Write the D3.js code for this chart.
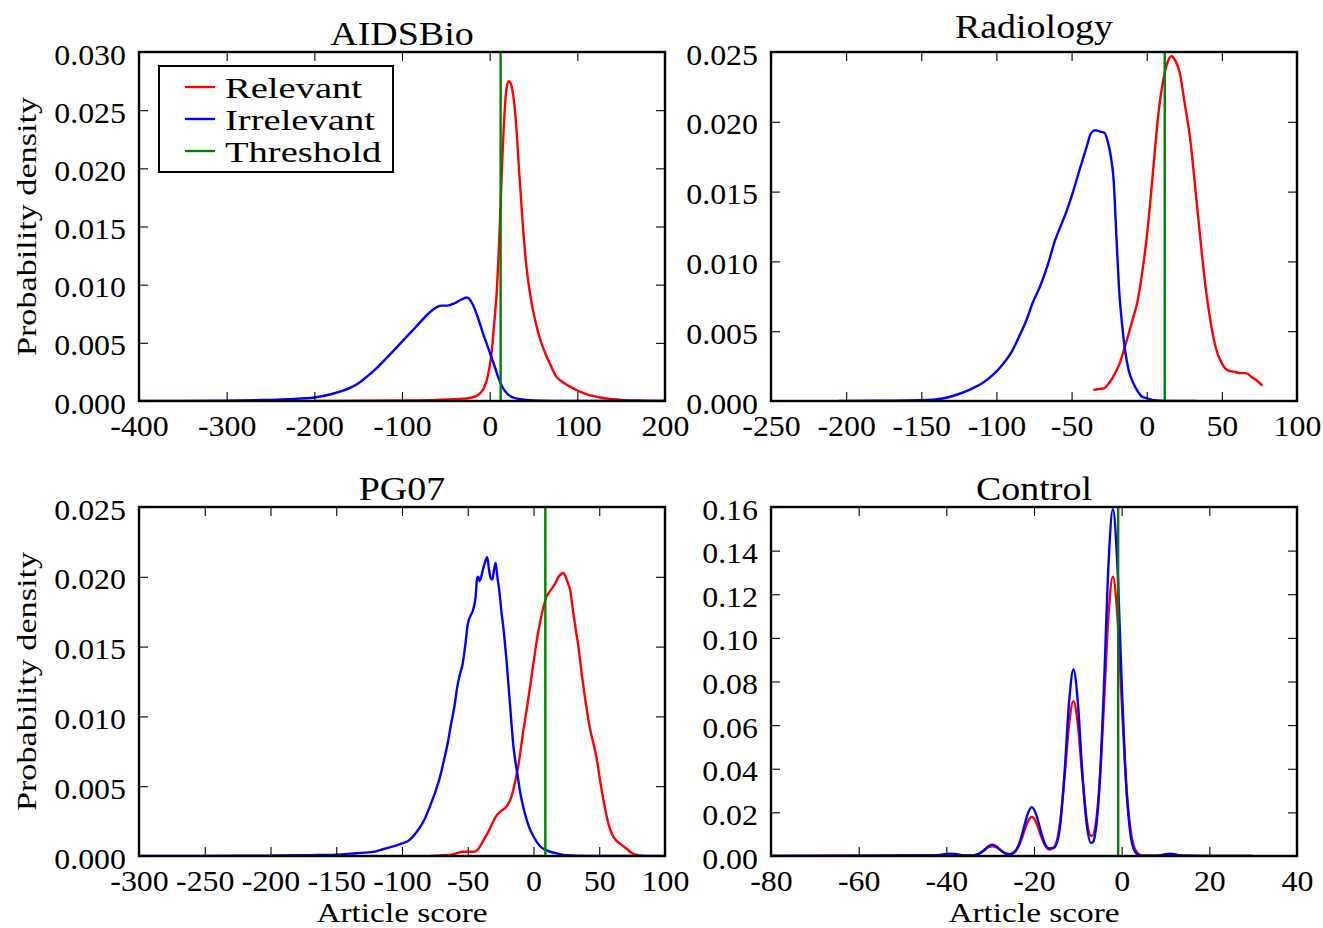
<!DOCTYPE html>
<html><head><meta charset="utf-8">
<script src="https://cdn.jsdelivr.net/npm/d3@7"></script>
<style>
body{margin:0;background:#fff}
svg{display:block}
text{font-family:"Liberation Serif","Times New Roman",serif;fill:#000}
</style>
</head><body>
<svg id="chart" width="1323" height="928"></svg>
<script>
// ---------------- DATA ----------------
const panelTitles = ["AIDSBio", "Radiology", "PG07", "Control"];
const seriesNames = ["Relevant", "Irrelevant", "Threshold"];
const yAxisTitle = "Probability density";
const xAxisTitle = "Article score";

const aidsXTicks = [-400,-300,-200,-100,0,100,200];
const aidsXLabels = ["-400","-300","-200","-100","0","100","200"];
const aidsYTicks = [0,0.005,0.010,0.015,0.020,0.025,0.030];
const aidsYLabels = ["0.000","0.005","0.010","0.015","0.020","0.025","0.030"];

const radXTicks = [-250,-200,-150,-100,-50,0,50,100];
const radXLabels = ["-250","-200","-150","-100","-50","0","50","100"];
const radYTicks = [0,0.005,0.010,0.015,0.020,0.025];
const radYLabels = ["0.000","0.005","0.010","0.015","0.020","0.025"];

const pgXTicks = [-300,-250,-200,-150,-100,-50,0,50,100];
const pgXLabels = ["-300","-250","-200","-150","-100","-50","0","50","100"];
const pgYTicks = [0,0.005,0.010,0.015,0.020,0.025];
const pgYLabels = ["0.000","0.005","0.010","0.015","0.020","0.025"];

const ctlXTicks = [-80,-60,-40,-20,0,20,40];
const ctlXLabels = ["-80","-60","-40","-20","0","20","40"];
const ctlYTicks = [0,0.02,0.04,0.06,0.08,0.10,0.12,0.14,0.16];
const ctlYLabels = ["0.00","0.02","0.04","0.06","0.08","0.10","0.12","0.14","0.16"];

const thresholds = [12.5, 12, 9, -0.8];

const aidsRelevant = [[-200,0],[-150,0.00002],[-100,0.00005],[-60,0.0001],[-40,0.00015],[-30,0.0002],[-20,0.0003],[-12,0.0006],[-6,0.0012],[-2,0.0022],[2,0.0040],[5,0.0065],[8,0.0093],[11,0.0140],[14,0.0200],[17,0.0248],[20,0.0272],[22,0.0275],[24,0.0273],[27,0.0262],[30,0.0240],[33,0.0205],[37,0.0160],[42,0.0115],[47,0.0088],[52,0.0069],[58,0.0052],[64,0.0040],[70,0.0030],[76,0.0021],[82,0.0017],[90,0.0013],[100,0.0009],[110,0.0006],[120,0.0004],[126,0.0003],[135,0.0002],[150,0.0001],[175,0.00003],[200,0]];
const aidsIrrelevant = [[-400,0],[-350,0.00001],[-300,0.00003],[-260,0.00008],[-230,0.00016],[-200,0.0003],[-180,0.0006],[-160,0.0011],[-150,0.0015],[-140,0.0021],[-128,0.0029],[-115,0.0039],[-100,0.0051],[-85,0.0063],[-70,0.0075],[-62,0.0080],[-55,0.0082],[-48,0.0082],[-40,0.0084],[-33,0.0087],[-26,0.0089],[-20,0.0084],[-15,0.0075],[-8,0.0059],[0,0.0042],[6,0.0029],[12,0.0016],[19,0.0007],[27,0.0003],[35,0.00015],[50,0.00004],[75,0.00001],[100,0],[200,0]];

const radRelevant = [[-35.5,0.0008],[-32,0.00085],[-28.5,0.0009],[-25,0.0013],[-22.5,0.0017],[-18,0.0027],[-14.5,0.0039],[-10,0.0056],[-6,0.0072],[-3,0.0092],[0,0.0117],[3,0.0150],[5.5,0.0180],[8,0.0208],[11,0.0230],[14,0.0243],[16.5,0.0247],[19,0.0244],[22,0.0235],[25,0.0215],[29,0.0187],[33,0.0145],[36,0.0113],[39,0.0083],[42,0.0060],[46,0.0038],[50,0.0027],[54,0.0022],[58,0.0021],[62,0.0020],[66,0.0020],[70,0.0017],[74,0.0014],[77,0.0011]];
const radIrrelevant = [[-205,0],[-180,0.00002],[-150,0.00005],[-135,0.0002],[-127,0.00043],[-118,0.0008],[-109,0.0013],[-102,0.0019],[-96,0.0026],[-90,0.0035],[-85,0.0046],[-80,0.0058],[-76,0.0070],[-71,0.0082],[-66,0.0097],[-61,0.0115],[-57,0.0126],[-54,0.0134],[-49,0.0150],[-44,0.0168],[-40,0.0182],[-37,0.0192],[-34,0.0194],[-31,0.0193],[-28,0.0192],[-26,0.0186],[-24,0.0176],[-22,0.0158],[-20,0.0114],[-18.5,0.0082],[-16.5,0.0056],[-14.5,0.0037],[-12,0.0022],[-9,0.0013],[-6,0.0007],[-3,0.0003],[0,0.0002],[5,0.00005],[10,0.00002],[20,0],[33,0]];

const pgRelevant = [[-78,0],[-70,0.00005],[-62,0.0001],[-58,0.0002],[-54,0.0003],[-50,0.0003],[-46,0.0003],[-43,0.0004],[-40,0.0008],[-37,0.0013],[-34,0.0018],[-31,0.0024],[-28,0.0029],[-25,0.0032],[-22,0.0034],[-20,0.0036],[-17,0.0042],[-14,0.0053],[-11,0.0068],[-8,0.0088],[-5,0.0106],[-2,0.0125],[1,0.0145],[3.5,0.0160],[6,0.0172],[8,0.0180],[10,0.0186],[12,0.0189],[15,0.0193],[17,0.0196],[19,0.0200],[21,0.0202],[22.5,0.0203],[24,0.0201],[26,0.0196],[28,0.0190],[30,0.0176],[32,0.0163],[34,0.0151],[37,0.0128],[40,0.0108],[43,0.0091],[46,0.0079],[48,0.0070],[51,0.0052],[54,0.0036],[57,0.0023],[60,0.0015],[63,0.0011],[67,0.0008],[71,0.0005],[75,0.0002],[80,0.00005],[85,0]];
const pgIrrelevant = [[-300,0],[-250,0.00001],[-200,0.00003],[-170,0.00006],[-150,0.0001],[-135,0.0002],[-122,0.0003],[-114,0.0005],[-106,0.0007],[-100,0.0009],[-95,0.0011],[-89,0.0017],[-83,0.0026],[-79,0.0035],[-75,0.0045],[-71,0.0057],[-68,0.0069],[-65,0.0082],[-63,0.0093],[-60,0.0108],[-58,0.0121],[-56,0.0130],[-54,0.0137],[-52,0.0150],[-50,0.0166],[-48,0.0172],[-46,0.0176],[-44,0.0186],[-43,0.0198],[-42,0.0200],[-41,0.0197],[-40,0.0199],[-38.5,0.0205],[-37,0.0210],[-35.2,0.0214],[-33.8,0.0205],[-32.5,0.0199],[-31.3,0.0198],[-30,0.0205],[-28.8,0.0210],[-27.5,0.0200],[-26,0.0190],[-24.5,0.0176],[-22.5,0.0160],[-20.5,0.0140],[-18,0.0110],[-15.2,0.0078],[-12.5,0.0060],[-10,0.0045],[-7,0.0032],[-3.5,0.0021],[0,0.0014],[5,0.0007],[10,0.0004],[17,0.0002],[25,0.00005],[40,0],[60,0],[100,0]];

const ctlRelevant = [[-80,0],[-60,0.0001],[-50,0.0002],[-45,0.0002],[-42,0.0003],[-40,0.0007],[-39,0.0008],[-38,0.0007],[-36,0.0003],[-34,0.0003],[-33,0.0007],[-32,0.0017],[-31.5,0.0024],[-30.5,0.0039],[-29.5,0.0045],[-28.5,0.0039],[-27.5,0.0024],[-26.5,0.0011],[-25.5,0.0008],[-24.5,0.0016],[-23.5,0.0045],[-22.5,0.0097],[-21.5,0.0154],[-20.5,0.0180],[-19.5,0.0154],[-18.5,0.0097],[-17.5,0.0050],[-16.5,0.0030],[-15.5,0.0038],[-14.5,0.0096],[-14,0.0163],[-13,0.0369],[-12,0.0603],[-11,0.0710],[-10,0.0603],[-9,0.0370],[-8,0.0170],[-7,0.0092],[-6.5,0.0095],[-6,0.0136],[-5,0.0345],[-4,0.0713],[-3,0.1106],[-2,0.1280],[-1,0.1106],[0,0.0713],[1,0.0343],[2,0.0124],[3,0.0033],[4,0.0007],[5,0.0001],[7,0.0001],[9,0.0003],[10,0.0006],[11,0.0007],[12,0.0006],[13,0.0003],[15,0.0001],[20,0],[30,0]];
const ctlIrrelevant = [[-80,0],[-60,0.0001],[-50,0.0002],[-45,0.0002],[-42,0.0004],[-40,0.0009],[-39,0.0011],[-38,0.0009],[-36,0.0003],[-34,0.0002],[-33,0.0006],[-32,0.0017],[-31.5,0.0025],[-30.5,0.0043],[-29.5,0.0052],[-28.5,0.0043],[-27.5,0.0025],[-26.5,0.0012],[-25.5,0.0008],[-24.5,0.0018],[-23.5,0.0050],[-22.5,0.0115],[-21.5,0.0190],[-20.5,0.0224],[-19.5,0.0190],[-18.5,0.0118],[-17.5,0.0055],[-16.5,0.0035],[-15.5,0.0037],[-14.5,0.0080],[-14,0.0146],[-13,0.0390],[-12,0.0705],[-11,0.0855],[-10,0.0705],[-9,0.0390],[-8,0.0150],[-7,0.0060],[-6.5,0.0064],[-6,0.0107],[-5,0.0340],[-4,0.0800],[-3,0.1340],[-2,0.1590],[-1,0.1340],[0,0.0800],[1,0.0335],[2,0.0100],[3,0.0021],[4,0.0003],[5,0.0001],[7,0.0001],[9,0.0004],[10,0.0008],[11,0.0010],[12,0.0008],[13,0.0004],[15,0.0001],[20,0],[30,0]];

// ---------------- LAYOUT ----------------
const colors = {Relevant:"#ff0000", Irrelevant:"#0000ff", Threshold:"#008000"};
const fontTick = 29, fontTitle = 33, fontLabel = 28, fontLegend = 29;
const lineW = 2.4;
const cols = [[139,665],[771,1297]];
const rows = [[52,401],[507,856]];

// widen Times-metric glyphs toward the look of Computer Modern
function widen(sel, factor) {
  sel.each(function() {
    const len = this.getComputedTextLength();
    d3.select(this).attr("textLength", len * factor).attr("lengthAdjust", "spacingAndGlyphs");
  });
}

const panels = [
  {title:panelTitles[0], xd:[-400,200], yd:[0,0.030], xt:aidsXTicks, xl:aidsXLabels, yt:aidsYTicks, yl:aidsYLabels, rel:aidsRelevant, irr:aidsIrrelevant, thr:thresholds[0], c:0, r:0, legend:true},
  {title:panelTitles[1], xd:[-250,100], yd:[0,0.025], xt:radXTicks, xl:radXLabels, yt:radYTicks, yl:radYLabels, rel:radRelevant, irr:radIrrelevant, thr:thresholds[1], c:1, r:0},
  {title:panelTitles[2], xd:[-300,100], yd:[0,0.025], xt:pgXTicks, xl:pgXLabels, yt:pgYTicks, yl:pgYLabels, rel:pgRelevant, irr:pgIrrelevant, thr:thresholds[2], c:0, r:1},
  {title:panelTitles[3], xd:[-80,40], yd:[0,0.16], xt:ctlXTicks, xl:ctlXLabels, yt:ctlYTicks, yl:ctlYLabels, rel:ctlRelevant, irr:ctlIrrelevant, thr:thresholds[3], c:1, r:1}
];

const svg = d3.select("#chart");
const defs = svg.append("defs");

panels.forEach((p, i) => {
  const [L, R] = cols[p.c];
  const [T, B] = rows[p.r];
  const x = d3.scaleLinear().domain(p.xd).range([L, R]);
  const y = d3.scaleLinear().domain(p.yd).range([B, T]);
  const g = svg.append("g");

  defs.append("clipPath").attr("id", "clip" + i)
    .append("rect").attr("x", L).attr("y", T).attr("width", R - L).attr("height", B - T);

  const plot = g.append("g").attr("clip-path", `url(#clip${i})`);
  const line = d3.line().x(d => x(d[0])).y(d => y(d[1])).curve(d3.curveMonotoneX);

  plot.append("path").datum(p.rel).attr("d", line)
    .attr("fill", "none").attr("stroke", colors.Relevant).attr("stroke-width", lineW).attr("stroke-linejoin","round");
  plot.append("path").datum(p.irr).attr("d", line)
    .attr("fill", "none").attr("stroke", colors.Irrelevant).attr("stroke-width", lineW).attr("stroke-linejoin","round");
  plot.append("line")
    .attr("x1", x(p.thr)).attr("x2", x(p.thr)).attr("y1", y(p.yd[0])).attr("y2", y(p.yd[1]))
    .attr("stroke", colors.Threshold).attr("stroke-width", lineW);

  // axes: inward ticks on all four sides
  const tk = 9;
  const xb = g.append("g").attr("transform", `translate(0,${B})`)
    .call(d3.axisBottom(x).tickValues(p.xt).tickSize(-tk).tickPadding(0).tickFormat((d, k) => p.xl[k]));
  xb.selectAll("text").attr("font-size", fontTick).attr("font-family", null).attr("dy", null).attr("y", 34.5);
  const xt = g.append("g").attr("transform", `translate(0,${T})`)
    .call(d3.axisTop(x).tickValues(p.xt).tickSize(-tk).tickFormat(""));
  const yl = g.append("g").attr("transform", `translate(${L},0)`)
    .call(d3.axisLeft(y).tickValues(p.yt).tickSize(-tk).tickPadding(13).tickFormat((d, k) => p.yl[k]));
  yl.selectAll("text").attr("font-size", fontTick).attr("font-family", null).attr("dy", null).attr("y", 12);
  const yr = g.append("g").attr("transform", `translate(${R},0)`)
    .call(d3.axisRight(y).tickValues(p.yt).tickSize(-tk).tickFormat(""));
  [xb, xt, yl, yr].forEach(a => {
    a.attr("font-family", null).attr("font-size", null);
    a.select(".domain").remove();
    a.selectAll(".tick line").attr("stroke", "#000").attr("stroke-width", 1.1);
  });
  widen(xb.selectAll("text"), 1.1);
  widen(yl.selectAll("text"), 1.1);

  // spines
  g.append("rect").attr("x", L).attr("y", T).attr("width", R - L).attr("height", B - T)
    .attr("fill", "none").attr("stroke", "#000").attr("stroke-width", 2.4);

  // title
  const hasDesc = /[gjpqy]/.test(p.title);
  const tt = g.append("text").attr("x", (L + R) / 2).attr("y", T - (hasDesc ? 14 : 7))
    .attr("text-anchor", "middle").attr("font-size", fontTitle).text(p.title);
  widen(tt, 1.15);

  // axis titles
  if (p.c === 0) {
    const t = g.append("text").attr("transform", `translate(36,${(T + B) / 2}) rotate(-90)`)
      .attr("text-anchor", "middle").attr("font-size", fontLabel).text(yAxisTitle);
    widen(t, 1.22);
  }
  if (p.r === 1) {
    const t = g.append("text").attr("x", (L + R) / 2).attr("y", 922)
      .attr("text-anchor", "middle").attr("font-size", fontLabel).text(xAxisTitle);
    widen(t, 1.19);
  }

  // legend
  if (p.legend) {
    const lx = L + 20, ly = T + 14, lw = 234, lh = 106;
    const lg = g.append("g");
    lg.append("rect").attr("x", lx).attr("y", ly).attr("width", lw).attr("height", lh)
      .attr("fill", "#fff").attr("stroke", "#000").attr("stroke-width", 2);
    seriesNames.forEach((name, k) => {
      const cy = ly + 21 + k * 32;
      lg.append("line").attr("x1", lx + 26).attr("x2", lx + 56).attr("y1", cy).attr("y2", cy)
        .attr("stroke", colors[name]).attr("stroke-width", lineW);
      const t = lg.append("text").attr("x", lx + 66).attr("y", cy + 10.5)
        .attr("font-size", fontLegend).text(name);
      widen(t, 1.33);
    });
  }
});
</script>
</body></html>
